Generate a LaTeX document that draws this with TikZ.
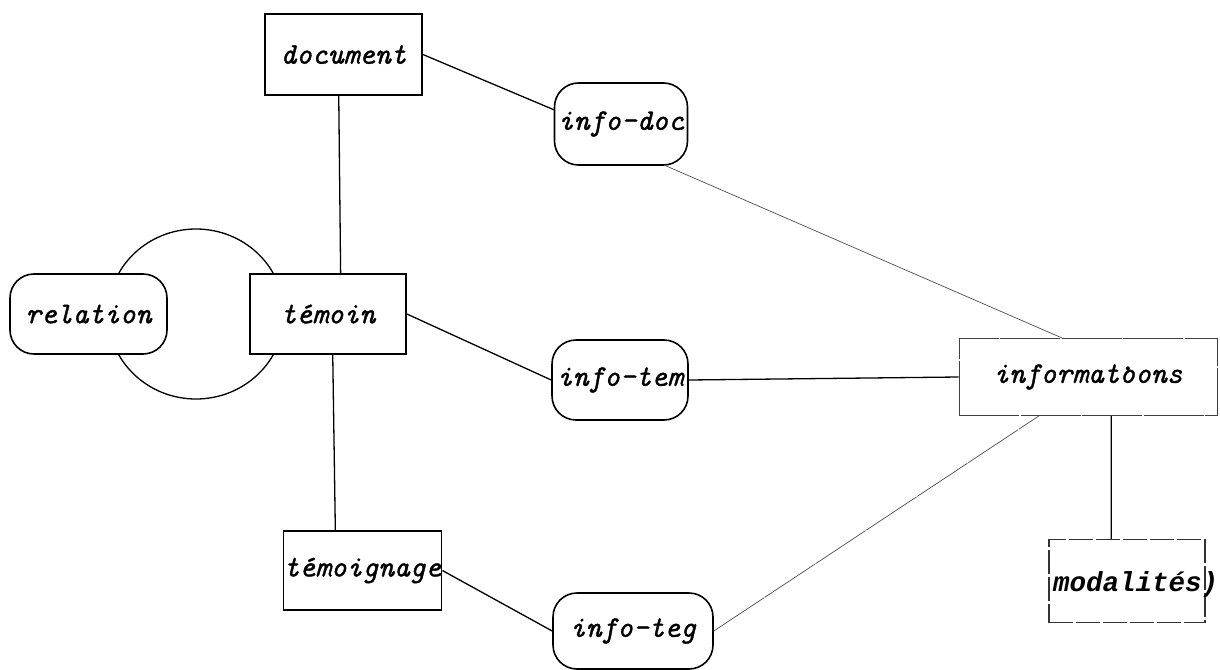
\documentclass[tikz,border=0pt]{standalone}
\usepackage{fontspec}
\newfontfamily\modfont{Liberation Mono}
\newfontfamily\tw[Extension=.otf,FakeBold=1.2]{lmmono10-italic}
\usetikzlibrary{calc}
\tikzset{
  lbl/.style={font=\fontsize{30}{34}\selectfont\tw},
  boxnode/.style={draw, line width=1.8pt, fill=white, inner sep=0pt, lbl},
  capnode/.style={draw, line width=1.6pt, fill=white, inner sep=0pt, rounded corners=24pt, lbl},
  link/.style={line width=1.3pt},
  faint/.style={line width=0.7pt, black!70}
}
\begin{document}
\begin{tikzpicture}[x=1pt,y=-1pt]
\useasboundingbox (0,0) rectangle (1220,669);
% loop around relation
\draw[line width=1.3pt] (196,314) ellipse [x radius=88, y radius=85];
% nodes
\node[boxnode, minimum width=157pt, minimum height=81pt] (document) at (343.5,54.5) {document};
\node[capnode, minimum width=133pt, minimum height=82pt] (infodoc) at (621,124) {info-doc};
\node[capnode, minimum width=157pt, minimum height=80pt] (relation) at (88.5,314) {relation};
\node[boxnode, minimum width=156pt, minimum height=80pt] (temoin) at (328,314) {témoin};
\node[capnode, minimum width=136pt, minimum height=80pt] (infotem) at (620,380) {info-tem};
\node[draw, line width=1pt, black!75, dash pattern=on 60pt off 1.5pt, fill=white, inner sep=0pt,
      minimum width=258pt, minimum height=77pt, lbl, text=black] (informations) at (1088,377)
      {informat\ooalign{o\cr\hidewidth\raisebox{0.42em}{.}\hidewidth\cr}ons};
\node[boxnode, minimum width=158pt, minimum height=79pt] (temoignage) at (362.5,570.5) {\hspace*{-4pt}témoignage\hspace*{-4pt}};
\node[capnode, minimum width=160pt, minimum height=76pt] (infoteg) at (633,631) {info-teg};
\node[draw, line width=1.1pt, black!80, dash pattern=on 24pt off 3pt, inner sep=0pt,
      minimum width=156pt, minimum height=83pt] (modalites) at (1127,581) {};
\node[font=\fontsize{27.5}{32}\selectfont\modfont\bfseries\itshape, inner sep=0pt] (modtxt) at (1135.5,584) {modalités)};
% connectors
\draw[link] (document.east) -- (infodoc.168);
\draw[link] ($(document.south west)!0.47!(document.south east)$) -- ($(temoin.north west)!0.58!(temoin.north east)$);
\draw[link] ($(temoin.south west)!0.53!(temoin.south east)$) -- ($(temoignage.north west)!0.33!(temoignage.north east)$);
\draw[link] (temoin.east) -- (infotem.west);
\draw[link] (infotem.east) -- (informations.west);
\draw[faint] (infodoc.-43) -- ($(informations.north west)!0.40!(informations.north east)$);
\draw[link] (temoignage.east) -- (infoteg.west);
\draw[faint, dash pattern=on 60pt off 1pt] (infoteg.east) -- ($(informations.south west)!0.31!(informations.south east)$);
\draw[link] ($(informations.south west)!0.59!(informations.south east)$) -- ($(modalites.north west)!0.4!(modalites.north east)$);
\end{tikzpicture}
\end{document}
